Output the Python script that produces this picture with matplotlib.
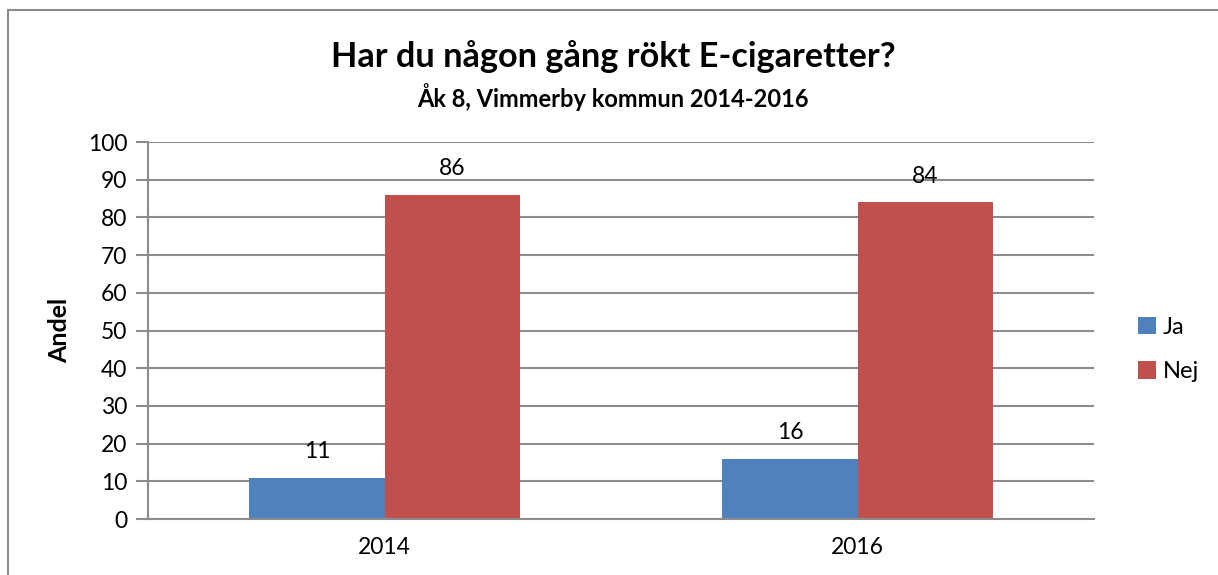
import matplotlib
matplotlib.use("Agg")
import matplotlib.pyplot as plt
import numpy as np
from matplotlib.patches import Rectangle

plt.rcParams['font.family'] = ['Lato', 'DejaVu Sans']

years = ["2014", "2016"]
ja = [11, 16]
nej = [86, 84]
series = ["Ja", "Nej"]
colors = ["#4F81BD", "#C0504D"]

fig = plt.figure(figsize=(12.18, 5.75), dpi=100)
ax = fig.add_axes([148/1218, 1 - 519/575, (1094-148)/1218, (519-142)/575])

# frame round the whole chart
fig.patches.append(Rectangle((8/1218, -0.1), 1.2, 1 - 10/575 + 0.1, transform=fig.transFigure,
                             fill=False, edgecolor="#8c8c8c", linewidth=1.5))

x = np.arange(len(years))
w = 0.2857
b1 = ax.bar(x - w/2, ja, w, color=colors[0], label=series[0])
b2 = ax.bar(x + w/2, nej, w, color=colors[1], label=series[1])
for bars in (b1, b2):
    for r in bars:
        ax.annotate(f"{r.get_height():.0f}", (r.get_x() + r.get_width()/2, r.get_height()),
                    xytext=(0, 14), textcoords="offset points",
                    ha="center", va="baseline", fontsize=16.5)

ax.set_xlim(-0.5, 1.5)
ax.set_ylim(0, 100)
ax.set_yticks(range(0, 101, 10))
ax.set_xticks(x)
ax.set_xticklabels(years)
ax.tick_params(axis="x", length=0, labelsize=16.5, pad=13)
ax.tick_params(axis="y", length=9, width=1.5, color="#8c8c8c", labelsize=16.5, pad=6)
ax.yaxis.grid(True, color="#8c8c8c", linewidth=1.5)
ax.set_axisbelow(True)
for s in ["top", "right"]:
    ax.spines[s].set_visible(False)
for s in ["left", "bottom"]:
    ax.spines[s].set_color("#8c8c8c")
    ax.spines[s].set_linewidth(1.5)

ax.set_ylabel("Andel", fontsize=18, fontweight="bold", labelpad=12)

fig.text(613/1218, 1 - 57/575, "Har du någon gång rökt E-cigaretter?", ha="center", va="center",
         fontsize=24.7, fontweight="bold")
fig.text(613/1218, 1 - 97/575, "Åk 8, Vimmerby kommun 2014-2016", ha="center", va="center",
         fontsize=17, fontweight="bold")

ax.legend(loc="center left", bbox_to_anchor=(1.024, 0.45), frameon=False, fontsize=17,
          handlelength=0.75, handleheight=0.75, handletextpad=0.3, labelspacing=1.0)

fig.savefig("out.png", dpi=100)
